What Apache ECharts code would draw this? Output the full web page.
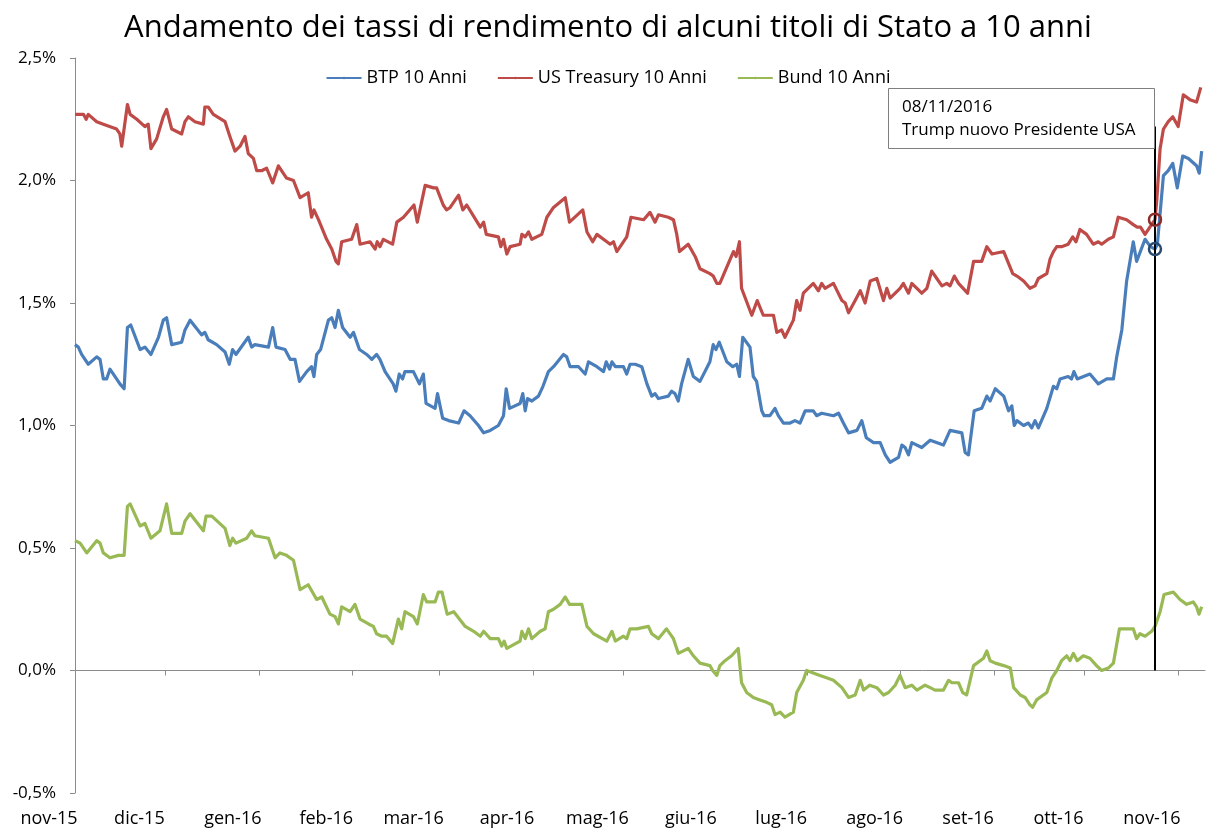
<!DOCTYPE html>
<html>
<head>
<meta charset="utf-8">
<title>Andamento dei tassi di rendimento</title>
<script src="https://cdn.jsdelivr.net/npm/echarts@6/dist/echarts.min.js"></script>
<style>
    html, body { margin: 0; background: #fff; }
    #grafico { width: 1216px; height: 831px; }
</style>
</head>
<body>
<div id="grafico"></div>
<script>
    // [giorni dal 01/11/2015, rendimento %]
    var btp = [[0,1.33],[1.1,1.32],[2.2,1.29],[4.4,1.25],[7.2,1.28],[8.3,1.27],[9.4,1.19],[10.5,1.19],[11.6,1.23],[13.8,1.19],[14.9,1.17],[16.3,1.15],[17.4,1.40],[18.5,1.41],[21.6,1.31],[23.2,1.32],[25.2,1.29],[27.7,1.36],[29.3,1.43],[30.4,1.44],[32.1,1.33],[35.4,1.34],[36.5,1.39],[38.2,1.43],[42.0,1.37],[43.1,1.38],[44.2,1.35],[47.0,1.33],[49.8,1.30],[51.2,1.25],[52.3,1.31],[53.4,1.29],[57.5,1.36],[58.6,1.32],[59.7,1.33],[64.2,1.32],
        [65.6,1.40],[66.7,1.32],[69.7,1.31],[71.4,1.27],[73.0,1.27],[74.5,1.18],[76.9,1.22],[78.5,1.24],[79.3,1.20],[80.2,1.29],[81.5,1.31],[84.1,1.43],[85.2,1.44],[86.3,1.40],[87.4,1.47],[88.8,1.40],[91.3,1.36],[92.4,1.38],[94.4,1.31],[96.8,1.29],[98.5,1.27],[100.1,1.29],[101.2,1.27],[102.9,1.22],[105.6,1.17],[106.5,1.14],[107.6,1.21],[108.7,1.19],[109.5,1.22],[112.3,1.22],[114.3,1.17],[115.6,1.21],[116.5,1.09],[119.5,1.07],[120.3,1.13],[122.0,1.03],[124.0,1.02],[127.3,1.01],
        [129.1,1.06],[131.1,1.04],[133.9,1.00],[135.6,0.97],[137.8,0.98],[140.5,1.00],[142.2,1.04],[143.1,1.15],[144.2,1.07],[147.7,1.09],[148.6,1.13],[149.4,1.06],[150.2,1.11],[151.6,1.10],[153.8,1.12],[155.3,1.16],[157.1,1.22],[158.8,1.24],[162.1,1.29],[163.2,1.28],[164.3,1.24],[167.1,1.24],[169.3,1.21],[170.4,1.26],[173.2,1.24],[175.4,1.22],[176.3,1.26],[177.4,1.23],[178.2,1.26],[179.3,1.24],[182.0,1.24],[183.1,1.21],[184.2,1.25],[185.9,1.25],[188.1,1.24],[189.8,1.17],
        [191.4,1.12],[192.5,1.13],[193.6,1.11],[196.9,1.12],[198.0,1.14],[199.1,1.13],[200.2,1.10],[201.3,1.17],[203.5,1.27],[205.2,1.20],[207.4,1.18],[210.7,1.26],[211.8,1.33],[212.7,1.31],[213.8,1.34],[216.3,1.26],[218.3,1.24],[219.6,1.25],[220.5,1.20],[221.6,1.36],[224.0,1.32],[225.1,1.20],[226.2,1.18],[227.9,1.06],[228.7,1.04],[230.6,1.04],[232.3,1.07],[233.4,1.04],[235.1,1.01],[237.3,1.01],[238.9,1.02],[240.6,1.01],[242.3,1.06],[245.0,1.06],[246.1,1.04],[247.8,1.05],[251.7,1.04],
        [253.4,1.05],[255.0,1.01],[256.7,0.97],[259.5,0.98],[261.1,1.02],[262.6,0.95],[265.0,0.93],[267.2,0.93],[268.9,0.88],[270.5,0.85],[273.3,0.87],[274.4,0.92],[275.5,0.91],[276.6,0.88],[277.7,0.93],[281.0,0.91],[283.8,0.94],[288.2,0.92],[290.4,0.98],[294.3,0.97],[295.4,0.89],[296.5,0.88],[298.4,1.06],[300.9,1.07],[302.6,1.12],[303.7,1.10],[305.4,1.15],[308.2,1.12],[309.8,1.06],[310.9,1.08],[311.7,1.00],[312.6,1.02],[314.8,1.00],
        [316.4,1.01],[317.5,0.99],[318.6,1.02],[319.7,0.99],[322.5,1.07],[324.7,1.16],[325.8,1.15],[326.9,1.19],[329.6,1.20],[330.7,1.19],[331.5,1.22],[332.6,1.19],[336.8,1.21],[339.6,1.17],[342.4,1.19],[344.6,1.19],[345.7,1.28],[347.4,1.39],[349.0,1.59],[351.2,1.75],[352.3,1.67],[355.1,1.76],[356.9,1.73],[358.4,1.72],[359.2,1.74],[361.2,2.02],[362.8,2.04],[364.3,2.07],[365.8,1.97],[367.6,2.10],[369.5,2.09],[372.2,2.06],[373.1,2.03],[373.9,2.12]];

    var treasury = [[0,2.27],[2.8,2.27],[3.7,2.25],[4.4,2.27],[7.2,2.24],[9.4,2.23],[13.8,2.21],[14.9,2.19],[15.5,2.14],[17.4,2.31],[18.3,2.27],[20.5,2.25],[23.2,2.22],[24.3,2.23],[25.2,2.13],[27.1,2.17],[29.3,2.26],[30.4,2.29],[32.1,2.21],[35.4,2.19],[36.5,2.24],[37.6,2.26],[39.8,2.24],[42.6,2.23],[43.1,2.30],[44.2,2.30],[45.9,2.27],[49.8,2.24],[51.4,2.18],[53.1,2.12],[54.8,2.14],[56.4,2.18],[57.5,2.11],[59.2,2.09],[60.3,2.04],[61.9,2.04],[63.6,2.05],
        [65.6,1.99],[67.5,2.06],[70.2,2.01],[72.5,2.00],[74.7,1.93],[77.4,1.95],[78.5,1.85],[79.3,1.88],[80.8,1.84],[83.5,1.76],[85.2,1.72],[86.6,1.67],[87.4,1.66],[88.5,1.75],[91.8,1.76],[93.5,1.82],[94.6,1.74],[97.9,1.75],[99.6,1.72],[100.3,1.75],[101.2,1.73],[102.3,1.76],[105.4,1.74],[106.8,1.83],[109.0,1.85],[112.5,1.90],[113.6,1.83],[116.2,1.98],[119.0,1.97],[120.0,1.97],[122.2,1.90],[123.3,1.88],
        [124.5,1.89],[127.3,1.94],[128.7,1.88],[130.0,1.90],[134.5,1.81],[135.6,1.83],[136.5,1.78],[140.5,1.77],[141.3,1.73],[142.2,1.76],[143.3,1.70],[144.4,1.73],[147.7,1.74],[148.3,1.78],[149.4,1.77],[150.5,1.79],[151.6,1.76],[154.9,1.78],[156.6,1.85],[158.8,1.89],[162.7,1.93],[164.1,1.83],[168.5,1.88],[169.9,1.79],[171.8,1.75],[173.2,1.78],[176.5,1.75],[177.6,1.74],[178.7,1.75],[179.8,1.71],[183.1,1.77],[184.5,1.85],[188.7,1.84],
        [190.8,1.87],[192.5,1.83],[193.6,1.86],[196.9,1.85],[198.6,1.84],[199.7,1.78],[200.6,1.71],[203.5,1.74],[205.8,1.69],[207.4,1.64],[210.7,1.62],[211.8,1.61],[213.0,1.58],[214.0,1.58],[218.5,1.71],[219.4,1.69],[220.5,1.75],[221.2,1.56],[224.6,1.45],[226.4,1.51],[228.4,1.45],[231.8,1.45],[232.9,1.38],[234.5,1.39],[235.6,1.36],[238.4,1.43],[239.5,1.51],[240.6,1.47],[241.7,1.54],[245.0,1.58],[246.7,1.55],[247.8,1.58],[248.9,1.56],[251.7,1.58],
        [254.5,1.51],[255.6,1.50],[256.7,1.46],[258.9,1.51],[260.6,1.55],[262.2,1.50],[263.9,1.59],[266.1,1.60],[268.3,1.51],[269.4,1.56],[270.5,1.52],[273.8,1.56],[274.9,1.58],[276.6,1.54],[277.7,1.58],[281.0,1.54],[282.7,1.56],[284.3,1.63],[286.0,1.60],[287.7,1.57],[289.3,1.58],[290.4,1.57],[291.8,1.61],[293.2,1.58],[296.2,1.54],[298.2,1.67],[300.9,1.67],[302.6,1.73],[304.3,1.70],[308.2,1.71],[311.2,1.62],[312.6,1.61],
        [314.8,1.59],[316.9,1.56],[318.6,1.57],[319.7,1.60],[322.5,1.62],[323.6,1.68],[324.7,1.71],[325.8,1.73],[327.4,1.73],[329.6,1.74],[331.1,1.77],[332.2,1.75],[333.5,1.80],[335.7,1.78],[337.9,1.74],[339.6,1.75],[340.7,1.74],[342.9,1.76],[344.6,1.77],[346.2,1.85],[349.0,1.84],[351.2,1.82],[352.5,1.81],[353.6,1.81],[355.1,1.78],[356.7,1.81],[358.4,1.84],[359.0,1.92],[360.1,2.13],[361.2,2.21],[362.8,2.24],[364.3,2.26],[366.1,2.22],[367.8,2.35],[370.0,2.33],[372.2,2.32],[373.6,2.38]];

    var bund = [[0,0.53],[1.7,0.52],[3.9,0.48],[7.2,0.53],[8.3,0.52],[9.4,0.48],[11.6,0.46],[14.4,0.47],[16.3,0.47],[17.4,0.67],[18.3,0.68],[21.6,0.59],[23.2,0.60],[25.2,0.54],[28.2,0.57],[30.4,0.68],[32.1,0.56],[35.4,0.56],[36.5,0.61],[38.2,0.64],[42.6,0.57],[43.5,0.63],[45.4,0.63],[49.8,0.58],[51.4,0.51],[52.3,0.54],[53.4,0.52],[57.0,0.54],[58.6,0.57],[59.7,0.55],[64.2,0.54],
        [66.4,0.46],[68.0,0.48],[70.2,0.47],[72.5,0.45],[74.7,0.33],[77.4,0.35],[80.2,0.29],[81.9,0.30],[84.6,0.23],[86.3,0.22],[87.4,0.19],[88.5,0.26],[91.3,0.24],[92.9,0.27],[94.6,0.21],[97.4,0.19],[99.0,0.18],[100.1,0.15],[101.8,0.14],[103.4,0.14],[105.4,0.11],[107.3,0.21],[108.4,0.17],[109.5,0.24],[112.3,0.22],[113.6,0.19],[115.6,0.31],[116.7,0.28],[119.5,0.28],[120.6,0.32],[121.8,0.32],[123.5,0.23],[125.7,0.24],
        [129.5,0.18],[132.3,0.16],[134.5,0.14],[135.6,0.16],[137.8,0.13],[140.5,0.13],[141.6,0.10],[142.4,0.12],[143.3,0.09],[147.7,0.12],[148.3,0.16],[149.4,0.13],[150.5,0.17],[151.6,0.13],[154.4,0.16],[156.0,0.17],[157.1,0.24],[158.8,0.25],[161.0,0.27],[162.7,0.30],[164.1,0.27],[166.0,0.27],[168.2,0.27],[169.9,0.18],[172.1,0.15],[176.5,0.12],[178.2,0.16],[179.3,0.12],[182.0,0.14],[183.1,0.13],[184.2,0.17],[186.4,0.17],[190.3,0.18],
        [191.4,0.15],[193.6,0.13],[196.3,0.17],[198.6,0.13],[200.2,0.07],[203.5,0.09],[205.2,0.06],[207.4,0.03],[210.7,0.02],[211.6,0.00],[213.0,-0.02],[214.0,0.02],[215.7,0.04],[217.9,0.06],[220.1,0.09],[221.2,-0.05],[222.9,-0.09],[225.1,-0.11],[227.3,-0.12],[229.5,-0.13],[231.2,-0.14],[232.3,-0.18],[234.0,-0.17],[235.6,-0.19],[238.4,-0.17],[239.5,-0.09],[241.7,-0.04],[242.8,0.00],[245.0,-0.01],[247.2,-0.02],[249.4,-0.03],[251.7,-0.04],
        [254.5,-0.07],[256.7,-0.11],[258.9,-0.10],[260.6,-0.04],[261.7,-0.08],[263.7,-0.06],[266.1,-0.07],[268.3,-0.10],[270.0,-0.09],[272.2,-0.06],[273.8,-0.02],[275.5,-0.07],[277.7,-0.06],[279.4,-0.08],[282.1,-0.06],[283.8,-0.07],[285.4,-0.08],[288.2,-0.08],[289.9,-0.04],[291.0,-0.05],[293.2,-0.05],[294.6,-0.09],[295.9,-0.10],[298.2,0.02],[301.5,0.05],[302.6,0.08],[303.7,0.04],[305.4,0.03],[308.2,0.02],[310.4,0.01],[311.5,-0.07],[313.7,-0.10],
        [315.3,-0.11],[316.9,-0.14],[317.8,-0.15],[319.1,-0.12],[322.5,-0.09],[324.2,-0.03],[325.8,0.00],[327.4,0.04],[329.1,0.06],[330.2,0.04],[331.3,0.07],[332.6,0.04],[334.6,0.06],[336.8,0.05],[339.0,0.02],[340.7,0.00],[342.9,0.01],[344.6,0.03],[346.6,0.17],[349.0,0.17],[351.2,0.17],[352.3,0.13],[353.4,0.15],[355.1,0.14],[357.3,0.16],[358.4,0.18],[360.1,0.24],[361.4,0.31],[364.5,0.32],[366.7,0.29],[368.9,0.27],[371.1,0.28],[372.2,0.26],[373.0,0.23],[373.9,0.26]];

    // inizio di ogni mese (giorni dal 01/11/2015)
    var mesiGiorni = [0, 30, 61, 92, 121, 152, 182, 213, 243, 274, 305, 335, 366];
    var mesiEtichette = ['nov-15', 'dic-15', 'gen-16', 'feb-16', 'mar-16', 'apr-16', 'mag-16',
        'giu-16', 'lug-16', 'ago-16', 'set-16', 'ott-16', 'nov-16'];

    var giornoElezioni = 358.4;   // 08/11/2016
    var altezzaLinea = 2.22;

    var font = '"Open Sans", "DejaVu Sans", sans-serif';

    function valoreAl(serie, giorno) {
        for (var i = 0; i < serie.length; i++) {
            if (serie[i][0] === giorno) return serie[i][1];
        }
        return null;
    }

    function cerchio(colore) {
        return {
            symbol: 'circle',
            symbolSize: 12,
            label: { show: false },
            itemStyle: { color: 'rgba(0,0,0,0)', borderColor: colore, borderWidth: 2.5 }
        };
    }

    var chart = echarts.init(document.getElementById('grafico'));

    var option = {
        backgroundColor: '#fff',
        animation: false,
        title: {
            text: 'Andamento dei tassi di rendimento di alcuni titoli di Stato a 10 anni',
            left: 'center',
            top: 8,
            textStyle: { fontFamily: font, fontSize: 31, fontWeight: 'normal', color: '#000' }
        },
        legend: {
            top: 64,
            left: 'center',
            itemWidth: 35,
            itemHeight: 3,
            itemGap: 30,
            textStyle: { fontFamily: font, fontSize: 18, color: '#000' },
            data: ['BTP 10 Anni', 'US Treasury 10 Anni', 'Bund 10 Anni']
        },
        grid: { left: 75, right: 11, top: 58, bottom: 38 },
        xAxis: [
            {
                type: 'value',
                min: 0,
                max: 375,
                axisLine: { onZero: true, lineStyle: { color: '#8c8c8c', width: 1 } },
                axisTick: { customValues: mesiGiorni, length: 5, lineStyle: { color: '#8c8c8c' } },
                axisLabel: { show: false },
                splitLine: { show: false }
            },
            {
                type: 'value',
                min: 0,
                max: 375,
                position: 'bottom',
                axisLine: { show: false, onZero: false },
                axisTick: { show: false },
                splitLine: { show: false },
                axisLabel: {
                    customValues: mesiGiorni,
                    margin: 17,
                    padding: [0, 52, 0, 0],
                    fontFamily: font,
                    fontSize: 18,
                    color: '#000',
                    formatter: function (v) {
                        var i = mesiGiorni.indexOf(v);
                        return i >= 0 ? mesiEtichette[i] : '';
                    }
                }
            }
        ],
        yAxis: {
            type: 'value',
            min: -0.5,
            max: 2.5,
            interval: 0.5,
            axisLine: { show: true, lineStyle: { color: '#8c8c8c', width: 1 } },
            axisTick: { show: true, length: 5, lineStyle: { color: '#8c8c8c' } },
            splitLine: { show: false },
            axisLabel: {
                margin: 19,
                fontFamily: font,
                fontSize: 17,
                color: '#000',
                formatter: function (v) { return v.toFixed(1).replace('.', ',') + '%'; }
            }
        },
        series: [
            {
                name: 'BTP 10 Anni',
                type: 'line',
                symbol: 'none',
                data: btp,
                color: '#4A7EBB',
                lineStyle: { width: 3.2, color: '#4A7EBB', join: 'round' },
                z: 3,
                markPoint: {
                    data: [Object.assign({ coord: [giornoElezioni, valoreAl(btp, giornoElezioni)] }, cerchio('#2B4A6F'))]
                }
            },
            {
                name: 'US Treasury 10 Anni',
                type: 'line',
                symbol: 'none',
                data: treasury,
                color: '#BE4B48',
                lineStyle: { width: 3.2, color: '#BE4B48', join: 'round' },
                z: 3,
                markPoint: {
                    data: [Object.assign({ coord: [giornoElezioni, valoreAl(treasury, giornoElezioni)] }, cerchio('#8E2C2A'))]
                },
                markLine: {
                    silent: true,
                    symbol: ['none', 'none'],
                    label: { show: false },
                    lineStyle: { color: '#000', width: 2, type: 'solid' },
                    data: [[{ coord: [giornoElezioni, 0] }, { coord: [giornoElezioni, altezzaLinea] }]]
                }
            },
            {
                name: 'Bund 10 Anni',
                type: 'line',
                symbol: 'none',
                data: bund,
                color: '#98B954',
                lineStyle: { width: 3.2, color: '#98B954', join: 'round' },
                z: 3
            }
        ],
        graphic: [
            {
                type: 'rect',
                left: 888,
                top: 88,
                shape: { width: 266, height: 60 },
                style: { fill: '#fff', stroke: '#7f7f7f', lineWidth: 1 },
                z: 10
            },
            {
                type: 'text',
                left: 902,
                top: 96,
                style: {
                    text: '08/11/2016\nTrump nuovo Presidente USA',
                    font: '17px ' + font,
                    lineHeight: 23,
                    fill: '#000'
                },
                z: 11
            }
        ]
    };

    chart.setOption(option);
</script>
</body>
</html>
